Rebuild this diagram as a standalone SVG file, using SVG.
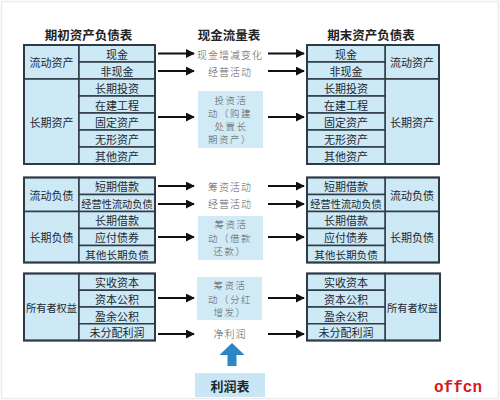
<svg xmlns="http://www.w3.org/2000/svg" width="500" height="400" viewBox="0 0 500 400">
<defs>
<style>
.cell{fill:#cde9f6;stroke:#2e3a44;stroke-width:1.5}
.frame{fill:none;stroke:#2e3a44;stroke-width:2}
.t{font-family:"Noto Sans CJK SC","Noto Sans",sans-serif;font-size:11px;fill:#1d2830;text-anchor:middle;dominant-baseline:central}
.h{font-family:"Noto Sans CJK SC","Noto Sans",sans-serif;font-size:12.5px;font-weight:bold;fill:#222;text-anchor:middle;dominant-baseline:central}
.m{font-family:"Noto Sans CJK SC","Noto Sans",sans-serif;font-size:10px;font-weight:300;fill:#5a5a5a;text-anchor:middle;dominant-baseline:central;letter-spacing:1px}
.mb{font-size:9.5px;letter-spacing:1.5px}
.mbox{fill:#d0eaf6;stroke:none}
.conn line{stroke:#111;stroke-width:2}
</style>
<marker id="ah" viewBox="0 0 10 10" refX="9" refY="5" markerWidth="4.5" markerHeight="4.5" markerUnits="strokeWidth" orient="auto">
<path d="M0,0 L10,5 L0,10 Z" fill="#111"/>
</marker>
</defs>
<rect x="0" y="0" width="500" height="400" fill="#ffffff"/>
<rect x="1.5" y="1.5" width="497" height="397" fill="none" stroke="#ececec" stroke-width="1.5"/>

<g id="headers">
<text class="h" x="88.5" y="34">期初资产负债表</text>
<text class="h" x="229" y="34">现金流量表</text>
<text class="h" x="371" y="34">期末资产负债表</text>
</g>

<g id="opening-assets">
<rect class="cell" x="24" y="45" width="55" height="34"/>
<rect class="cell" x="24" y="79" width="55" height="85"/>
<rect class="cell" x="79" y="45" width="76" height="17"/>
<rect class="cell" x="79" y="62" width="76" height="17"/>
<rect class="cell" x="79" y="79" width="76" height="17"/>
<rect class="cell" x="79" y="96" width="76" height="17"/>
<rect class="cell" x="79" y="113" width="76" height="17"/>
<rect class="cell" x="79" y="130" width="76" height="17"/>
<rect class="cell" x="79" y="147" width="76" height="17"/>
<rect class="frame" x="24" y="45" width="131" height="119"/>
<text class="t" x="51.5" y="62">流动资产</text>
<text class="t" x="51.5" y="121.5">长期资产</text>
<text class="t" x="117" y="53.5">现金</text>
<text class="t" x="117" y="70.5">非现金</text>
<text class="t" x="117" y="87.5">长期投资</text>
<text class="t" x="117" y="104.5">在建工程</text>
<text class="t" x="117" y="121.5">固定资产</text>
<text class="t" x="117" y="138.5">无形资产</text>
<text class="t" x="117" y="155.5">其他资产</text>
</g>

<g id="closing-assets">
<rect class="cell" x="385" y="45" width="54" height="34"/>
<rect class="cell" x="385" y="79" width="54" height="85"/>
<rect class="cell" x="307" y="45" width="78" height="17"/>
<rect class="cell" x="307" y="62" width="78" height="17"/>
<rect class="cell" x="307" y="79" width="78" height="17"/>
<rect class="cell" x="307" y="96" width="78" height="17"/>
<rect class="cell" x="307" y="113" width="78" height="17"/>
<rect class="cell" x="307" y="130" width="78" height="17"/>
<rect class="cell" x="307" y="147" width="78" height="17"/>
<rect class="frame" x="307" y="45" width="132" height="119"/>
<text class="t" x="412" y="62">流动资产</text>
<text class="t" x="412" y="121.5">长期资产</text>
<text class="t" x="346" y="53.5">现金</text>
<text class="t" x="346" y="70.5">非现金</text>
<text class="t" x="346" y="87.5">长期投资</text>
<text class="t" x="346" y="104.5">在建工程</text>
<text class="t" x="346" y="121.5">固定资产</text>
<text class="t" x="346" y="138.5">无形资产</text>
<text class="t" x="346" y="155.5">其他资产</text>
</g>

<g id="opening-liabilities">
<rect class="cell" x="24" y="177.5" width="55" height="34"/>
<rect class="cell" x="24" y="211.5" width="55" height="51"/>
<rect class="cell" x="79" y="177.5" width="76" height="17"/>
<rect class="cell" x="79" y="194.5" width="76" height="17"/>
<rect class="cell" x="79" y="211.5" width="76" height="17"/>
<rect class="cell" x="79" y="228.5" width="76" height="17"/>
<rect class="cell" x="79" y="245.5" width="76" height="17"/>
<rect class="frame" x="24" y="177.5" width="131" height="85"/>
<text class="t" x="51.5" y="194.5">流动负债</text>
<text class="t" x="51.5" y="237">长期负债</text>
<text class="t" x="117" y="186">短期借款</text>
<text class="t" x="117" y="203" style="font-size:10.2px">经营性流动负债</text>
<text class="t" x="117" y="220">长期借款</text>
<text class="t" x="117" y="237">应付债券</text>
<text class="t" x="117" y="254" style="font-size:10.6px">其他长期负债</text>
</g>

<g id="closing-liabilities">
<rect class="cell" x="385" y="177.5" width="54" height="34"/>
<rect class="cell" x="385" y="211.5" width="54" height="51"/>
<rect class="cell" x="307" y="177.5" width="78" height="17"/>
<rect class="cell" x="307" y="194.5" width="78" height="17"/>
<rect class="cell" x="307" y="211.5" width="78" height="17"/>
<rect class="cell" x="307" y="228.5" width="78" height="17"/>
<rect class="cell" x="307" y="245.5" width="78" height="17"/>
<rect class="frame" x="307" y="177.5" width="132" height="85"/>
<text class="t" x="412" y="194.5">流动负债</text>
<text class="t" x="412" y="237">长期负债</text>
<text class="t" x="346" y="186">短期借款</text>
<text class="t" x="346" y="203" style="font-size:10.2px">经营性流动负债</text>
<text class="t" x="346" y="220">长期借款</text>
<text class="t" x="346" y="237">应付债券</text>
<text class="t" x="346" y="254" style="font-size:10.6px">其他长期负债</text>
</g>

<g id="opening-equity">
<rect class="cell" x="24" y="273.5" width="55" height="67"/>
<rect class="cell" x="79" y="273.5" width="76" height="16.75"/>
<rect class="cell" x="79" y="290.25" width="76" height="16.75"/>
<rect class="cell" x="79" y="307" width="76" height="16.75"/>
<rect class="cell" x="79" y="323.75" width="76" height="16.75"/>
<rect class="frame" x="24" y="273.5" width="131" height="67"/>
<text class="t" x="51.5" y="307" style="font-size:10.2px">所有者权益</text>
<text class="t" x="117" y="282">实收资本</text>
<text class="t" x="117" y="298.5">资本公积</text>
<text class="t" x="117" y="315.5">盈余公积</text>
<text class="t" x="117" y="332">未分配利润</text>
</g>

<g id="closing-equity">
<rect class="cell" x="385" y="273.5" width="55" height="67"/>
<rect class="cell" x="307" y="273.5" width="78" height="16.75"/>
<rect class="cell" x="307" y="290.25" width="78" height="16.75"/>
<rect class="cell" x="307" y="307" width="78" height="16.75"/>
<rect class="cell" x="307" y="323.75" width="78" height="16.75"/>
<rect class="frame" x="307" y="273.5" width="133" height="67"/>
<text class="t" x="412.5" y="307" style="font-size:10.2px">所有者权益</text>
<text class="t" x="346" y="282">实收资本</text>
<text class="t" x="346" y="298.5">资本公积</text>
<text class="t" x="346" y="315.5">盈余公积</text>
<text class="t" x="346" y="332">未分配利润</text>
</g>

<g id="cf-cash-change"><text class="m" x="230" y="54">现金增减变化</text></g>
<g id="cf-operating-1"><text class="m" x="230" y="71.5">经营活动</text></g>
<g id="cf-investing">
<rect class="mbox" x="198" y="91" width="65" height="57"/>
<text class="m mb" x="231" y="99.5">投资活</text>
<text class="m mb" x="230" y="112.5">动（购建</text>
<text class="m mb" x="231" y="125.5">处置长</text>
<text class="m mb" x="230" y="138.5">期资产）</text>
</g>
<g id="cf-financing-1"><text class="m" x="230" y="186">筹资活动</text></g>
<g id="cf-operating-2"><text class="m" x="230" y="203.5">经营活动</text></g>
<g id="cf-financing-2">
<rect class="mbox" x="198" y="216" width="65" height="44"/>
<text class="m mb" x="231" y="224">筹资活</text>
<text class="m mb" x="230" y="237.5">动（借款</text>
<text class="m mb" x="230" y="251">还款）</text>
</g>
<g id="cf-financing-3">
<rect class="mbox" x="197" y="277" width="65" height="43"/>
<text class="m mb" x="230" y="285">筹资活</text>
<text class="m mb" x="230" y="298.5">动（分红</text>
<text class="m mb" x="230" y="312">增发）</text>
</g>
<g id="cf-net-profit"><text class="m" x="230" y="333">净利润</text></g>

<g id="income-statement">
<rect x="195" y="373" width="70" height="24" fill="#c9e6f4"/>
<text class="h" x="230" y="385" style="font-size:13px;fill:#1d2830">利润表</text>
</g>

<g id="connectors" class="conn">
<line x1="158" y1="53.5" x2="194" y2="53.5" marker-end="url(#ah)"/>
<line x1="268" y1="53.5" x2="304" y2="53.5" marker-end="url(#ah)"/>
<line x1="158" y1="71" x2="194" y2="71" marker-end="url(#ah)"/>
<line x1="268" y1="71" x2="304" y2="71" marker-end="url(#ah)"/>
<line x1="158" y1="117" x2="194" y2="117" marker-end="url(#ah)"/>
<line x1="268" y1="117" x2="304" y2="117" marker-end="url(#ah)"/>
<line x1="158" y1="186" x2="194" y2="186" marker-end="url(#ah)"/>
<line x1="268" y1="186" x2="304" y2="186" marker-end="url(#ah)"/>
<line x1="158" y1="204" x2="194" y2="204" marker-end="url(#ah)"/>
<line x1="268" y1="204" x2="304" y2="204" marker-end="url(#ah)"/>
<line x1="158" y1="237" x2="194" y2="237" marker-end="url(#ah)"/>
<line x1="268" y1="237" x2="304" y2="237" marker-end="url(#ah)"/>
<line x1="158" y1="298" x2="194" y2="298" marker-end="url(#ah)"/>
<line x1="268" y1="298" x2="304" y2="298" marker-end="url(#ah)"/>
<line x1="158" y1="334" x2="194" y2="334" marker-end="url(#ah)"/>
<line x1="268" y1="334" x2="304" y2="334" marker-end="url(#ah)"/>
<polygon points="232,343 219.5,355 227.5,355 227.5,366 236.5,366 236.5,355 244.5,355" fill="#2a86c4"/>
</g>

<text x="458" y="392" text-anchor="middle" font-family="'Liberation Mono','DejaVu Sans Mono',monospace" font-size="16" font-weight="bold" fill="#d31a1a">offcn</text>
</svg>
